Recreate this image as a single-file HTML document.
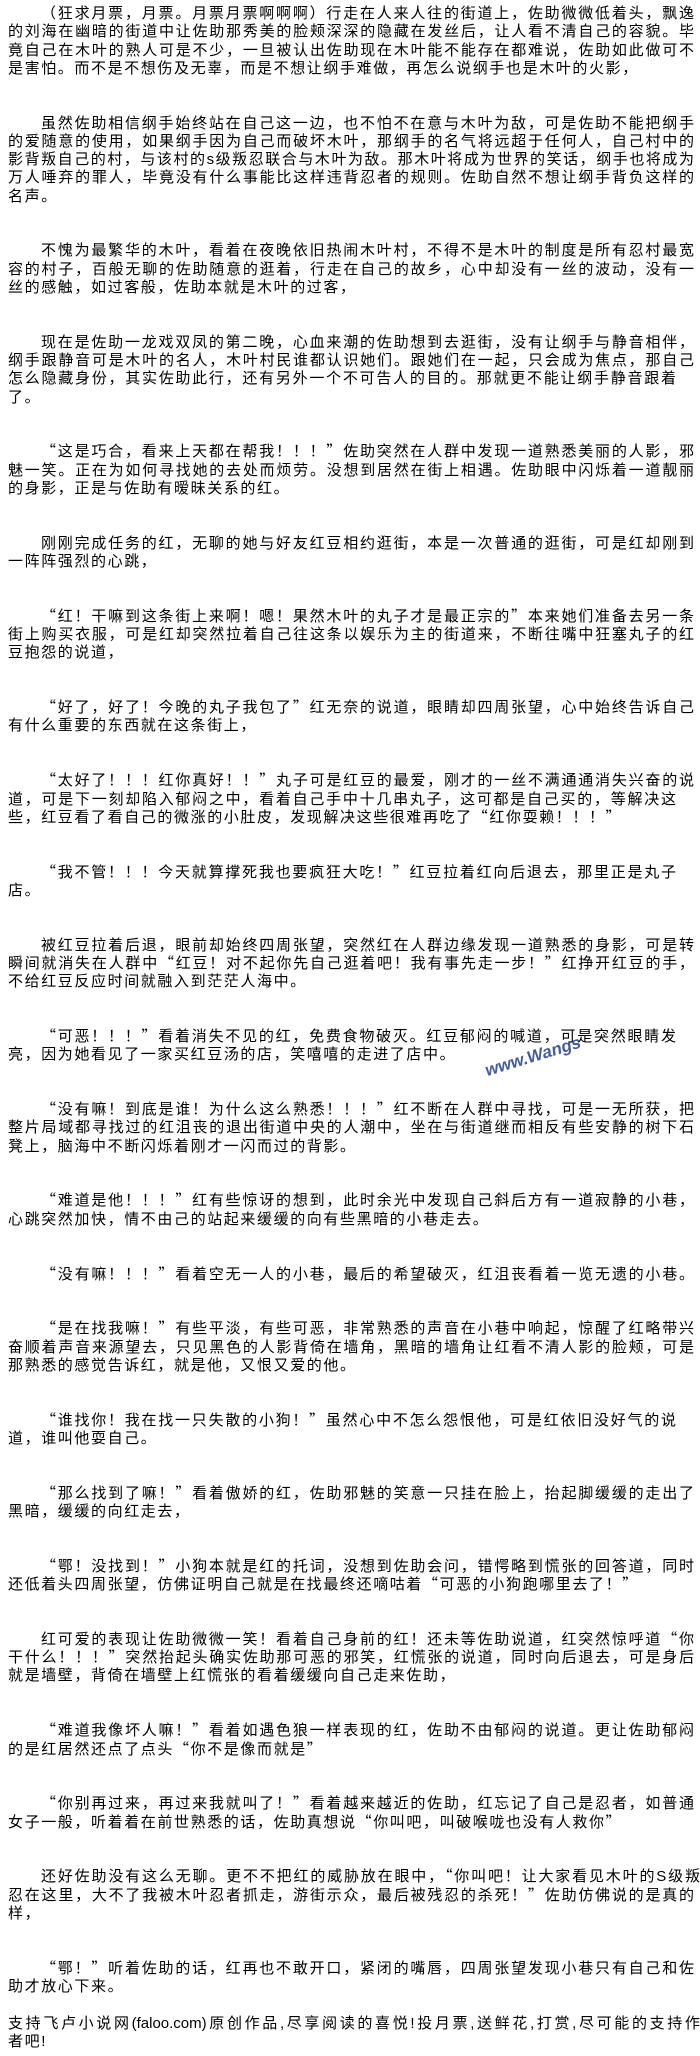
<!DOCTYPE html>
<html><head><meta charset="utf-8">
<style>
html,body{margin:0;padding:0;background:#fff;}
body{width:700px;height:2056px;overflow:hidden;position:relative;color:#000;
font-family:"Noto Sans CJK SC","WenQuanYi Zen Hei","Liberation Sans",sans-serif;font-size:15px;}
.l{font-family:"Liberation Sans",sans-serif;}
#c{position:absolute;left:8px;top:4px;width:686px;}
#c div{height:18.28px;line-height:18.28px;white-space:nowrap;letter-spacing:1.6px;box-sizing:border-box;}
#c div.f{text-align:justify;text-align-last:justify;letter-spacing:0;width:686px;}
#c div.g{text-align:justify;text-align-last:justify;letter-spacing:0;width:668px;}
#c div.h{text-align:justify;text-align-last:justify;letter-spacing:0;width:692px;}
#c div.i{padding-left:33px;}
#c div.b{height:36.56px;}
#c div.b1{height:18.28px;}
.wm{position:absolute;left:488px;top:1062px;transform:rotate(-17deg);transform-origin:left bottom;color:#22408c;font-family:"Liberation Sans",sans-serif;font-weight:bold;font-style:italic;font-size:17px;line-height:17px;opacity:.85;}
</style></head><body>
<div id="c">
<div class="f i">（狂求月票，月票。月票月票啊啊啊）行走在人来人往的街道上，佐助微微低着头，飘逸</div>
<div class="f">的刘海在幽暗的街道中让佐助那秀美的脸颊深深的隐藏在发丝后，让人看不清自己的容貌。毕</div>
<div class="f">竟自己在木叶的熟人可是不少，一旦被认出佐助现在木叶能不能存在都难说，佐助如此做可不</div>
<div>是害怕。而不是不想伤及无辜，而是不想让纲手难做，再怎么说纲手也是木叶的火影，</div>
<div class="b"></div>
<div class="f i">虽然佐助相信纲手始终站在自己这一边，也不怕不在意与木叶为敌，可是佐助不能把纲手</div>
<div class="f">的爱随意的使用，如果纲手因为自己而破坏木叶，那纲手的名气将远超于任何人，自己村中的</div>
<div class="f">影背叛自己的村，与该村的<span class="l">s</span>级叛忍联合与木叶为敌。那木叶将成为世界的笑话，纲手也将成为</div>
<div class="f">万人唾弃的罪人，毕竟没有什么事能比这样违背忍者的规则。佐助自然不想让纲手背负这样的</div>
<div>名声。</div>
<div class="b"></div>
<div class="f i">不愧为最繁华的木叶，看着在夜晚依旧热闹木叶村，不得不是木叶的制度是所有忍村最宽</div>
<div class="f">容的村子，百般无聊的佐助随意的逛着，行走在自己的故乡，心中却没有一丝的波动，没有一</div>
<div>丝的感触，如过客般，佐助本就是木叶的过客，</div>
<div class="b"></div>
<div class="f i">现在是佐助一龙戏双凤的第二晚，心血来潮的佐助想到去逛街，没有让纲手与静音相伴，</div>
<div class="f">纲手跟静音可是木叶的名人，木叶村民谁都认识她们。跟她们在一起，只会成为焦点，那自己</div>
<div class="g">怎么隐藏身份，其实佐助此行，还有另外一个不可告人的目的。那就更不能让纲手静音跟着</div>
<div>了。</div>
<div class="b"></div>
<div class="f i">“这是巧合，看来上天都在帮我！！！”佐助突然在人群中发现一道熟悉美丽的人影，邪</div>
<div class="f">魅一笑。正在为如何寻找她的去处而烦劳。没想到居然在街上相遇。佐助眼中闪烁着一道靓丽</div>
<div>的身影，正是与佐助有暧昧关系的红。</div>
<div class="b"></div>
<div class="f i">刚刚完成任务的红，无聊的她与好友红豆相约逛街，本是一次普通的逛街，可是红却刚到</div>
<div>一阵阵强烈的心跳，</div>
<div class="b"></div>
<div class="f i">“红！干嘛到这条街上来啊！嗯！果然木叶的丸子才是最正宗的”本来她们准备去另一条</div>
<div class="f">街上购买衣服，可是红却突然拉着自己往这条以娱乐为主的街道来，不断往嘴中狂塞丸子的红</div>
<div>豆抱怨的说道，</div>
<div class="b"></div>
<div class="f i">“好了，好了！今晚的丸子我包了”红无奈的说道，眼睛却四周张望，心中始终告诉自己</div>
<div>有什么重要的东西就在这条街上，</div>
<div class="b"></div>
<div class="f i">“太好了！！！红你真好！！”丸子可是红豆的最爱，刚才的一丝不满通通消失兴奋的说</div>
<div class="g">道，可是下一刻却陷入郁闷之中，看着自己手中十几串丸子，这可都是自己买的，等解决这</div>
<div>些，红豆看了看自己的微涨的小肚皮，发现解决这些很难再吃了“红你耍赖！！！”</div>
<div class="b"></div>
<div class="g i">“我不管！！！今天就算撑死我也要疯狂大吃！”红豆拉着红向后退去，那里正是丸子</div>
<div>店。</div>
<div class="b"></div>
<div class="f i">被红豆拉着后退，眼前却始终四周张望，突然红在人群边缘发现一道熟悉的身影，可是转</div>
<div class="f">瞬间就消失在人群中“红豆！对不起你先自己逛着吧！我有事先走一步！”红挣开红豆的手，</div>
<div>不给红豆反应时间就融入到茫茫人海中。</div>
<div class="b"></div>
<div class="g i">“可恶！！！”看着消失不见的红，免费食物破灭。红豆郁闷的喊道，可是突然眼睛发</div>
<div>亮，因为她看见了一家买红豆汤的店，笑嘻嘻的走进了店中。</div>
<div class="b"></div>
<div class="f i">“没有嘛！到底是谁！为什么这么熟悉！！！”红不断在人群中寻找，可是一无所获，把</div>
<div class="f">整片局域都寻找过的红沮丧的退出街道中央的人潮中，坐在与街道继而相反有些安静的树下石</div>
<div>凳上，脑海中不断闪烁着刚才一闪而过的背影。</div>
<div class="b"></div>
<div class="f i">“难道是他！！！”红有些惊讶的想到，此时余光中发现自己斜后方有一道寂静的小巷，</div>
<div>心跳突然加快，情不由己的站起来缓缓的向有些黑暗的小巷走去。</div>
<div class="b"></div>
<div class="f i">“没有嘛！！！”看着空无一人的小巷，最后的希望破灭，红沮丧看着一览无遗的小巷。</div>
<div class="b"></div>
<div class="f i">“是在找我嘛！”有些平淡，有些可恶，非常熟悉的声音在小巷中响起，惊醒了红略带兴</div>
<div class="f">奋顺着声音来源望去，只见黑色的人影背倚在墙角，黑暗的墙角让红看不清人影的脸颊，可是</div>
<div>那熟悉的感觉告诉红，就是他，又恨又爱的他。</div>
<div class="b"></div>
<div class="g i">“谁找你！我在找一只失散的小狗！”虽然心中不怎么怨恨他，可是红依旧没好气的说</div>
<div>道，谁叫他耍自己。</div>
<div class="b"></div>
<div class="f i">“那么找到了嘛！”看着傲娇的红，佐助邪魅的笑意一只挂在脸上，抬起脚缓缓的走出了</div>
<div>黑暗，缓缓的向红走去，</div>
<div class="b"></div>
<div class="f i">“鄂！没找到！”小狗本就是红的托词，没想到佐助会问，错愕略到慌张的回答道，同时</div>
<div>还低着头四周张望，仿佛证明自己就是在找最终还嘀咕着“可恶的小狗跑哪里去了！”</div>
<div class="b"></div>
<div class="f i">红可爱的表现让佐助微微一笑！看着自己身前的红！还未等佐助说道，红突然惊呼道“你</div>
<div class="f">干什么！！！”突然抬起头确实佐助那可恶的邪笑，红慌张的说道，同时向后退去，可是身后</div>
<div>就是墙壁，背倚在墙壁上红慌张的看着缓缓向自己走来佐助，</div>
<div class="b"></div>
<div class="f i">“难道我像坏人嘛！”看着如遇色狼一样表现的红，佐助不由郁闷的说道。更让佐助郁闷</div>
<div>的是红居然还点了点头“你不是像而就是”</div>
<div class="b"></div>
<div class="f i">“你别再过来，再过来我就叫了！”看着越来越近的佐助，红忘记了自己是忍者，如普通</div>
<div>女子一般，听着着在前世熟悉的话，佐助真想说“你叫吧，叫破喉咙也没有人救你”</div>
<div class="b"></div>
<div class="h i">还好佐助没有这么无聊。更不不把红的威胁放在眼中，“你叫吧！让大家看见木叶的<span class="l">S</span>级叛</div>
<div class="f">忍在这里，大不了我被木叶忍者抓走，游街示众，最后被残忍的杀死！”佐助仿佛说的是真的</div>
<div>样，</div>
<div class="b"></div>
<div class="f i">“鄂！”听着佐助的话，红再也不敢开口，紧闭的嘴唇，四周张望发现小巷只有自己和佐</div>
<div>助才放心下来。</div>
<div class="b1"></div>
<div class="h">支持飞卢小说网<span class="l">(faloo.com)</span>原创作品<span class="l">,</span>尽享阅读的喜悦<span class="l">!</span>投月票<span class="l">,</span>送鲜花<span class="l">,</span>打赏<span class="l">,</span>尽可能的支持作</div>
<div>者吧<span class="l">!</span></div>
</div>
<div class="wm">www.Wangs</div>
</body></html>
